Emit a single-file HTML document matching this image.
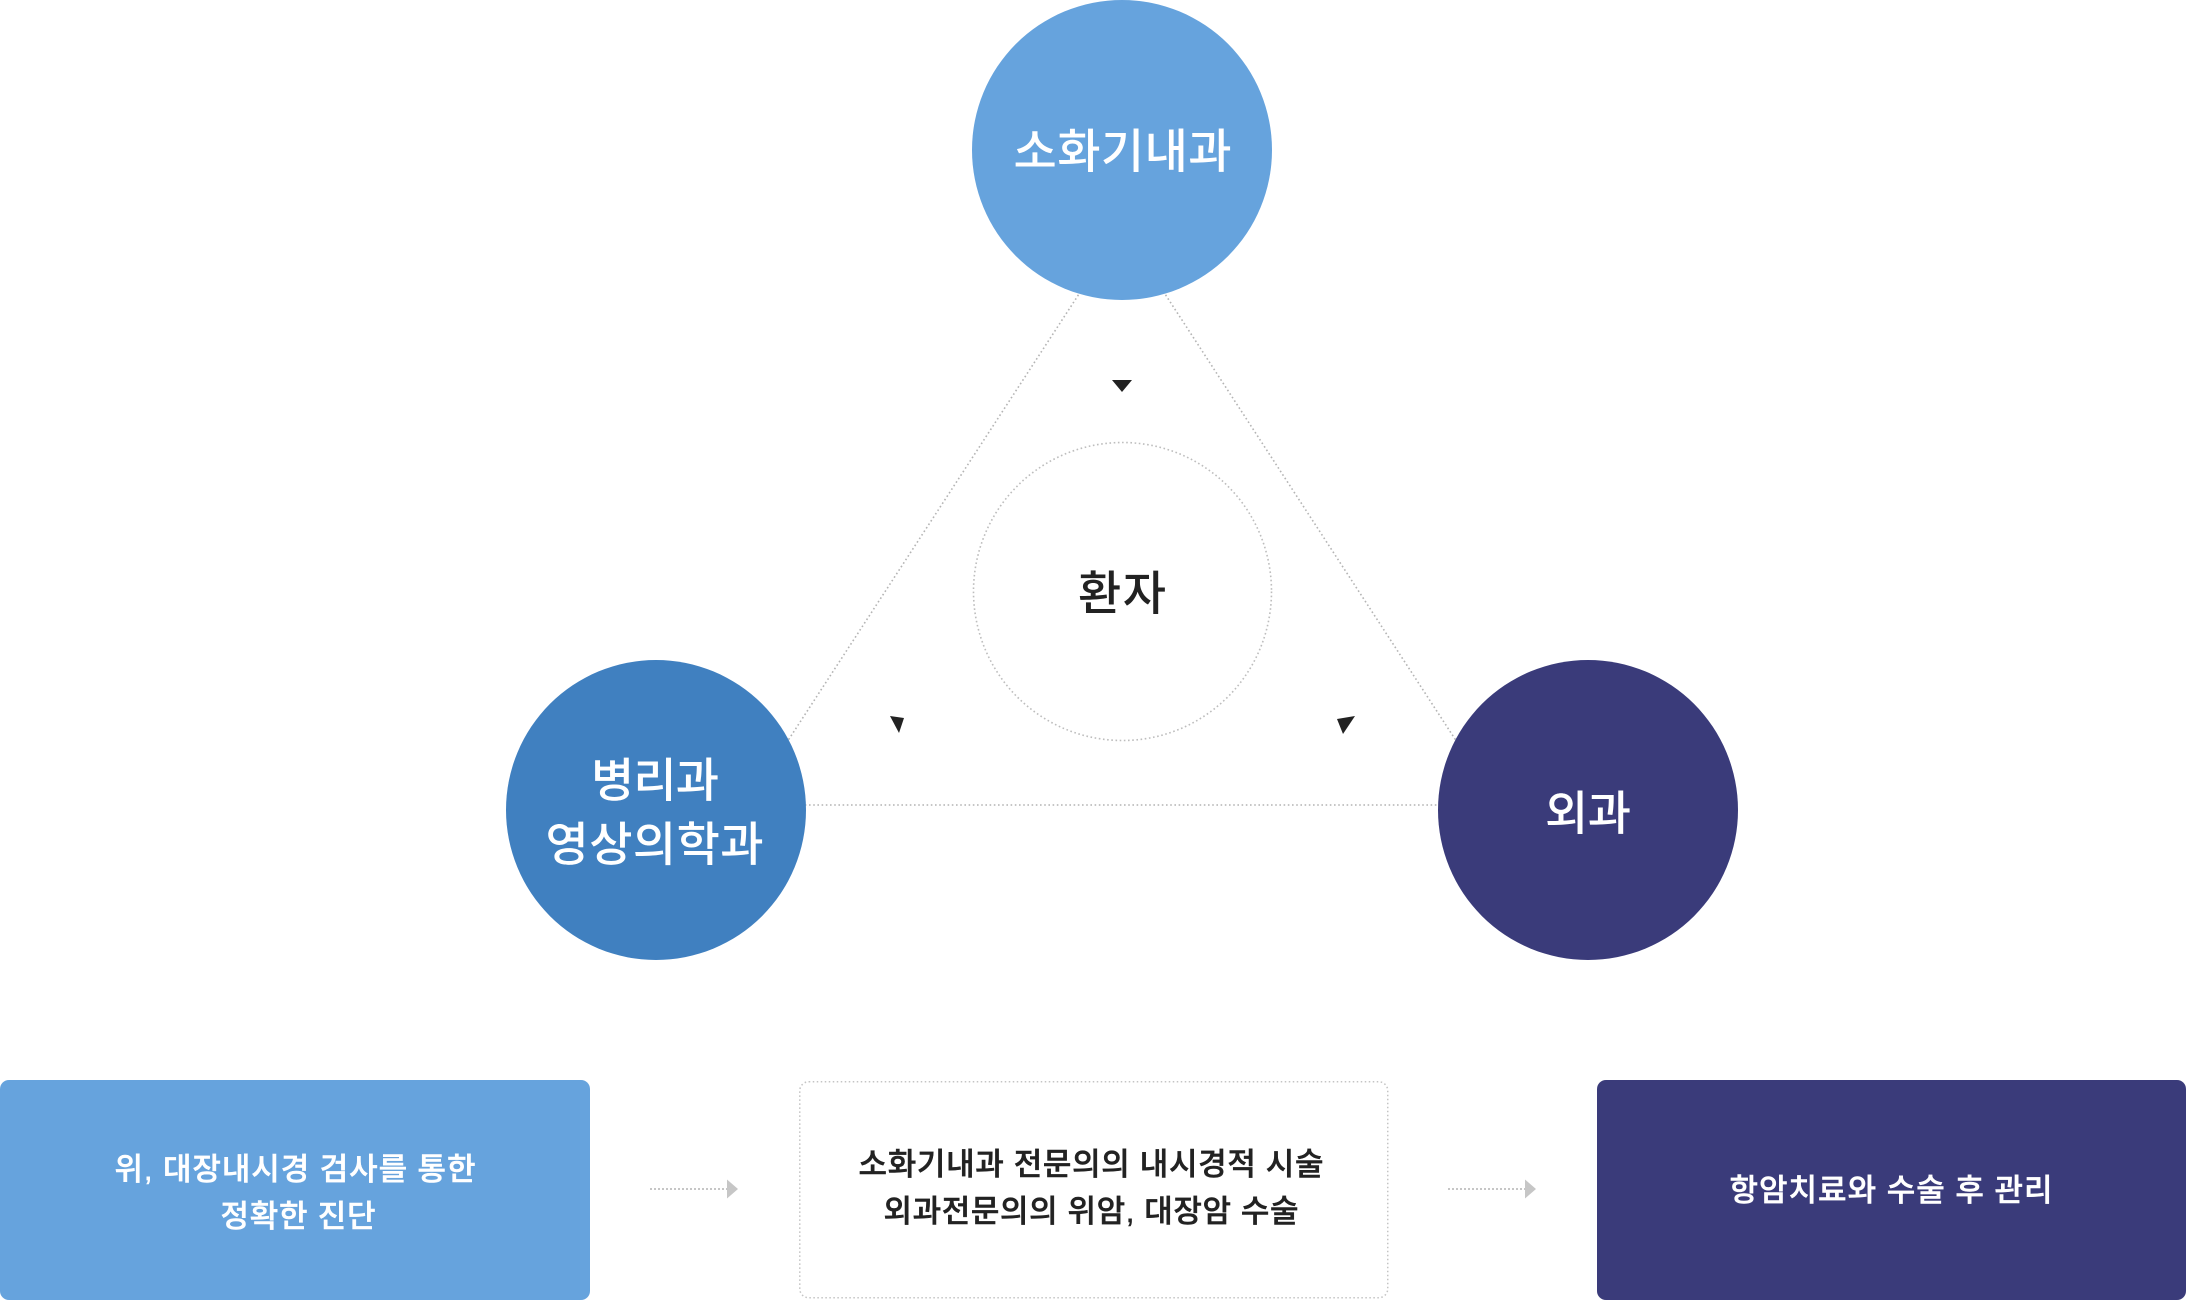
<!DOCTYPE html>
<html>
<head>
<meta charset="utf-8">
<style>
  html, body { margin: 0; padding: 0; background: #ffffff; }
  body { width: 2186px; height: 1300px; overflow: hidden; }
  svg { display: block; }
  .t { font-family: "Liberation Sans", "Noto Sans CJK KR", "NanumGothic", sans-serif; font-weight: 500; }
</style>
</head>
<body>
<svg width="2186" height="1300" viewBox="0 0 2186 1300" xmlns="http://www.w3.org/2000/svg">
  <!-- triangle dotted lines -->
  <g stroke="#b4b4b4" stroke-width="1.6" stroke-dasharray="1.6 2.6" fill="none">
    <line x1="1122" y1="228" x2="746" y2="805"/>
    <line x1="1122" y1="228" x2="1498" y2="805"/>
    <line x1="746" y1="805" x2="1498" y2="805"/>
  </g>

  <!-- center dotted circle -->
  <circle cx="1122.5" cy="591.5" r="149" fill="#ffffff" stroke="#bdbdbd" stroke-width="1.6" stroke-dasharray="1.6 2.6"/>
  <text class="t" x="1122" y="610" text-anchor="middle" font-size="47" fill="#222222" textLength="88" lengthAdjust="spacing">환자</text>

  <!-- arrowheads -->
  <polygon points="1112,380 1132,380 1122,392" fill="#222222"/>
  <polygon points="890,716 904,718 899,733" fill="#222222"/>
  <polygon points="1337,719 1355,716 1343,734" fill="#222222"/>

  <!-- top circle -->
  <circle cx="1122" cy="150" r="150" fill="#66a3dd"/>
  <text class="t" x="1122.5" y="168" text-anchor="middle" font-size="47" fill="#ffffff" textLength="218" lengthAdjust="spacing">소화기내과</text>

  <!-- left circle -->
  <circle cx="656" cy="810" r="150" fill="#4080c0"/>
  <text class="t" x="655" y="797" text-anchor="middle" font-size="47" fill="#ffffff" textLength="128" lengthAdjust="spacing">병리과</text>
  <text class="t" x="654.5" y="861" text-anchor="middle" font-size="47" fill="#ffffff" textLength="218" lengthAdjust="spacing">영상의학과</text>

  <!-- right circle -->
  <circle cx="1588" cy="810" r="150" fill="#3a3b7a"/>
  <text class="t" x="1588" y="830" text-anchor="middle" font-size="47" fill="#ffffff" textLength="86" lengthAdjust="spacing">외과</text>

  <!-- bottom boxes -->
  <rect x="0" y="1080" width="590" height="220" rx="9" ry="9" fill="#66a3dd"/>
  <text class="t" x="295" y="1180" text-anchor="middle" font-size="31" fill="#ffffff" stroke="#ffffff" stroke-width="0.5" textLength="361" lengthAdjust="spacing">위, 대장내시경 검사를 통한</text>
  <text class="t" x="298" y="1227" text-anchor="middle" font-size="31" fill="#ffffff" stroke="#ffffff" stroke-width="0.5" textLength="155" lengthAdjust="spacing">정확한 진단</text>

  <rect x="799.75" y="1081.75" width="588" height="216" rx="9" ry="9" fill="#ffffff" stroke="#c4c4c4" stroke-width="1.5" stroke-dasharray="1.5 2.5"/>
  <text class="t" x="1091" y="1175" text-anchor="middle" font-size="31" fill="#222222" stroke="#222222" stroke-width="0.5" textLength="465" lengthAdjust="spacing">소화기내과 전문의의 내시경적 시술</text>
  <text class="t" x="1091" y="1222" text-anchor="middle" font-size="31" fill="#222222" stroke="#222222" stroke-width="0.5" textLength="415" lengthAdjust="spacing">외과전문의의 위암, 대장암 수술</text>

  <rect x="1597" y="1080" width="589" height="220" rx="9" ry="9" fill="#3a3b7a"/>
  <text class="t" x="1891" y="1201" text-anchor="middle" font-size="31" fill="#ffffff" stroke="#ffffff" stroke-width="0.5" textLength="323" lengthAdjust="spacing">항암치료와 수술 후 관리</text>

  <!-- connectors between boxes -->
  <g stroke="#c6c6c6" stroke-width="2" stroke-dasharray="2 2" fill="none">
    <line x1="650" y1="1189" x2="727" y2="1189"/>
    <line x1="1448" y1="1189" x2="1525" y2="1189"/>
  </g>
  <polygon points="727,1179.5 738,1189 727,1198.5" fill="#c6c6c6"/>
  <polygon points="1525,1179.5 1536,1189 1525,1198.5" fill="#c6c6c6"/>
</svg>
</body>
</html>
